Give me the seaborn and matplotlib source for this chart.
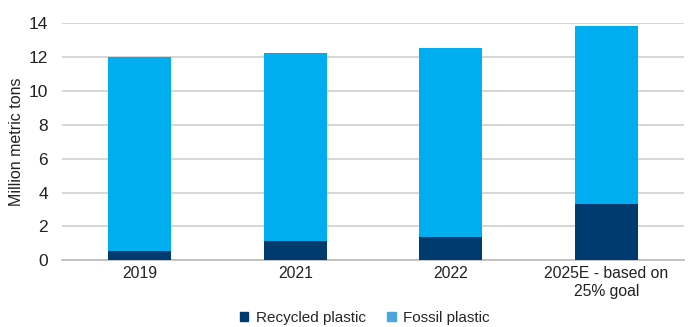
import matplotlib
matplotlib.use("Agg")
import matplotlib.pyplot as plt
import seaborn as sns
import pandas as pd
from matplotlib.patches import Patch

categories = ["2019", "2021", "2022", "2025E - based on\n25% goal"]
recycled = [0.55, 1.15, 1.38, 3.35]
fossil = [11.45, 11.10, 11.17, 10.50]
series_names = ["Recycled plastic", "Fossil plastic"]
yticks = [0, 2, 4, 6, 8, 10, 12, 14]

c_rec = "#003B6F"
c_fos = "#00AEEF"
c_fos_leg = "#4BA6DE"

sns.set_theme(style="white")
plt.rcParams["font.family"] = ["Liberation Sans Narrow", "Liberation Sans", "DejaVu Sans"]

df = pd.DataFrame({"cat": categories, "rec": recycled, "fos": fossil})
df["total"] = df["rec"] + df["fos"]

fig = plt.figure(figsize=(6.94, 3.27), dpi=100)
ax = fig.add_axes([62/694, 1-260.3/327, (684-62)/694, (260.3-23.3)/327])

sns.barplot(data=df, x="cat", y="total", color=c_fos, saturation=1, width=0.405, ax=ax,
            zorder=3, linewidth=0, edgecolor="none")
sns.barplot(data=df, x="cat", y="rec", color=c_rec, saturation=1, width=0.405, ax=ax,
            zorder=3, linewidth=0, edgecolor="none")

ax.set_ylim(0, 14)
ax.set_xlim(-0.5, len(categories)-0.5)
ax.set_yticks(yticks)
ax.set_yticklabels([str(v) for v in yticks], fontsize=12.5, color="#222222")
ax.set_xticklabels(categories, fontsize=11.3, color="#222222", linespacing=1.3)
ax.tick_params(axis="both", length=0, pad=4)
ax.tick_params(axis="y", pad=10)
ax.yaxis.grid(True, color="#D0D0D0", linewidth=1.2, zorder=0)
ax.set_axisbelow(True)
for s in ["top", "right", "left"]:
    ax.spines[s].set_visible(False)
ax.spines["bottom"].set_color("#BBBBBB")
ax.spines["bottom"].set_linewidth(1.2)
ax.set_xlabel("")
ax.set_ylabel("Million metric tons", fontsize=11.5, color="#222222")
ax.yaxis.set_label_coords(-0.061, 0.5)

handles = [Patch(color=c_rec, label=series_names[0]), Patch(color=c_fos_leg, label=series_names[1])]
fig.legend(handles=handles, loc="center", bbox_to_anchor=(365/694, 1-318/327), ncol=2,
           frameon=False, fontsize=11, handlelength=0.55, handleheight=0.55,
           handletextpad=0.5, columnspacing=1.4)

fig.savefig("out.png", dpi=100)
